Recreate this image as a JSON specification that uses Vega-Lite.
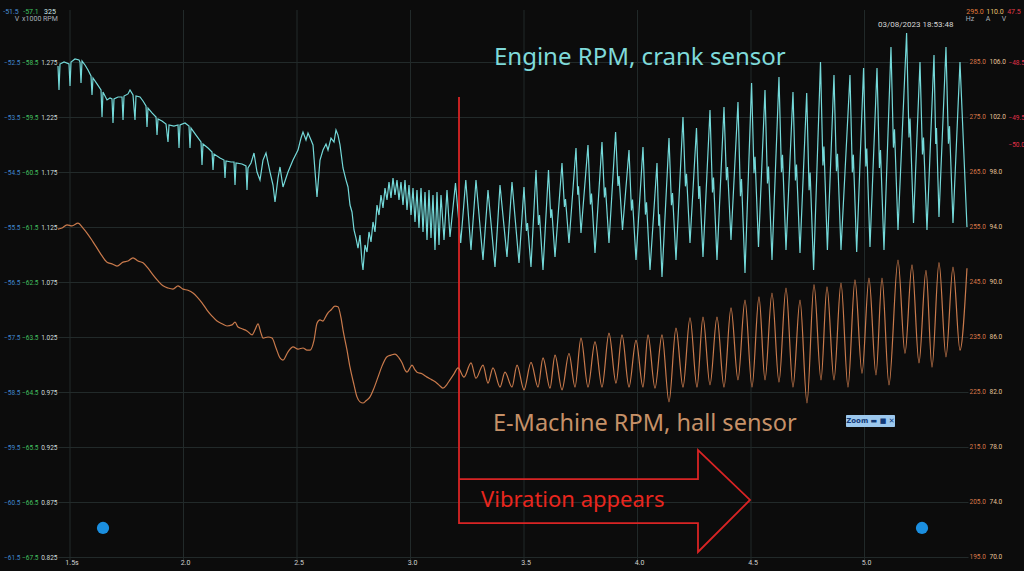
{
  "$schema": "https://vega.github.io/schema/vega-lite/v6.json",
  "width": 910,
  "height": 550,
  "autosize": "none",
  "padding": {"left": 58, "top": 10, "right": 56, "bottom": 11},
  "background": "#0c0c0c",
  "config": {
    "view": {"stroke": null},
    "axis": {"labelFont": "Roboto", "labelFontSize": 6.5, "domain": false, "ticks": false, "labelPadding": 1}
  },
  "datasets": {
    "cyan": [
      {"t":1.4471,"v":1.2714},{"t":1.4515,"v":1.2496},{"t":1.4559,"v":1.2732},{"t":1.4736,"v":1.275},{"t":1.4956,"v":1.2732},
      {"t":1.5,"v":1.2532},{"t":1.5044,"v":1.275},{"t":1.522,"v":1.2778},{"t":1.5396,"v":1.2769},{"t":1.5441,"v":1.275},
      {"t":1.5485,"v":1.256},{"t":1.5529,"v":1.2759},{"t":1.5661,"v":1.2723},{"t":1.5793,"v":1.2678},{"t":1.5925,"v":1.2623},
      {"t":1.5969,"v":1.2451},{"t":1.6013,"v":1.2605},{"t":1.6189,"v":1.2551},{"t":1.6366,"v":1.2496},{"t":1.641,"v":1.225},
      {"t":1.6454,"v":1.2478},{"t":1.663,"v":1.2405},{"t":1.6762,"v":1.2423},{"t":1.685,"v":1.2414},{"t":1.6894,"v":1.2196},
      {"t":1.6938,"v":1.2414},{"t":1.7115,"v":1.2432},{"t":1.7291,"v":1.2432},{"t":1.7335,"v":1.2223},{"t":1.7379,"v":1.2441},
      {"t":1.7555,"v":1.246},{"t":1.7643,"v":1.2496},{"t":1.7775,"v":1.2451},{"t":1.7863,"v":1.2223},{"t":1.7907,"v":1.2441},
      {"t":1.8084,"v":1.2432},{"t":1.8216,"v":1.2396},{"t":1.8348,"v":1.235},{"t":1.8392,"v":1.2159},{"t":1.8436,"v":1.2332},
      {"t":1.8612,"v":1.2287},{"t":1.8789,"v":1.225},{"t":1.8833,"v":1.2086},{"t":1.8877,"v":1.2232},{"t":1.9053,"v":1.2214},
      {"t":1.9229,"v":1.2187},{"t":1.9317,"v":1.2023},{"t":1.9361,"v":1.2178},{"t":1.9581,"v":1.2168},{"t":1.9758,"v":1.2178},
      {"t":1.9802,"v":1.1968},{"t":1.9846,"v":1.2178},{"t":2.0066,"v":1.2196},{"t":2.0242,"v":1.2168},{"t":2.0286,"v":1.1968},
      {"t":2.033,"v":1.215},{"t":2.0551,"v":1.2086},{"t":2.0771,"v":1.2023},{"t":2.0815,"v":1.1814},{"t":2.0859,"v":1.2005},
      {"t":2.1079,"v":1.1968},{"t":2.1256,"v":1.1932},{"t":2.13,"v":1.1768},{"t":2.1344,"v":1.1914},{"t":2.1608,"v":1.1877},
      {"t":2.1784,"v":1.1859},{"t":2.1828,"v":1.1696},{"t":2.1872,"v":1.185},{"t":2.2093,"v":1.1841},{"t":2.2225,"v":1.1841},
      {"t":2.2269,"v":1.1632},{"t":2.2313,"v":1.1832},{"t":2.2577,"v":1.1823},{"t":2.2753,"v":1.1805},{"t":2.2797,"v":1.1587},
      {"t":2.2841,"v":1.1787},{"t":2.2974,"v":1.1832},{"t":2.3106,"v":1.1923},{"t":2.3238,"v":1.175},{"t":2.337,"v":1.1677},
      {"t":2.3502,"v":1.1859},{"t":2.3634,"v":1.1923},{"t":2.3811,"v":1.175},{"t":2.3943,"v":1.1632},{"t":2.4031,"v":1.1478},
      {"t":2.4163,"v":1.1696},{"t":2.4251,"v":1.1796},{"t":2.4383,"v":1.1614},{"t":2.4604,"v":1.175},{"t":2.4824,"v":1.1859},
      {"t":2.5044,"v":1.195},{"t":2.5176,"v":1.2059},{"t":2.5264,"v":1.2114},{"t":2.5396,"v":1.2041},{"t":2.5485,"v":1.2105},
      {"t":2.5617,"v":1.2041},{"t":2.5705,"v":1.1996},{"t":2.5881,"v":1.1523},{"t":2.6013,"v":1.1859},{"t":2.6145,"v":1.195},
      {"t":2.6278,"v":1.2005},{"t":2.6366,"v":1.195},{"t":2.6498,"v":1.2059},{"t":2.663,"v":1.2023},{"t":2.6718,"v":1.2132},
      {"t":2.6806,"v":1.2086},{"t":2.6894,"v":1.1996},{"t":2.7026,"v":1.1787},{"t":2.7159,"v":1.1677},{"t":2.7247,"v":1.1614},
      {"t":2.7335,"v":1.145},{"t":2.7423,"v":1.1387},{"t":2.7511,"v":1.1223},{"t":2.7599,"v":1.115},{"t":2.7687,"v":1.1059},
      {"t":2.7775,"v":1.1177},{"t":2.7863,"v":1.0932},{"t":2.7907,"v":1.0859},{"t":2.7996,"v":1.1087},{"t":2.8084,"v":1.1023},
      {"t":2.8172,"v":1.1205},{"t":2.826,"v":1.1114},{"t":2.8348,"v":1.1296},{"t":2.8436,"v":1.1205},{"t":2.8524,"v":1.145},
      {"t":2.8612,"v":1.1359},{"t":2.87,"v":1.1541},{"t":2.8789,"v":1.1423},{"t":2.8877,"v":1.1605},{"t":2.8965,"v":1.1496},
      {"t":2.9053,"v":1.1659},{"t":2.9141,"v":1.1514},{"t":2.9229,"v":1.1696},{"t":2.9317,"v":1.1541},{"t":2.9405,"v":1.1677},
      {"t":2.9493,"v":1.1496},{"t":2.9581,"v":1.1659},{"t":2.967,"v":1.145},{"t":2.9758,"v":1.1677},{"t":2.9846,"v":1.1405},
      {"t":2.9934,"v":1.1632},{"t":3.0022,"v":1.1359},{"t":3.011,"v":1.1605},{"t":3.0198,"v":1.1296},{"t":3.0286,"v":1.1587},
      {"t":3.0374,"v":1.1241},{"t":3.0463,"v":1.1605},{"t":3.0551,"v":1.1205},{"t":3.0639,"v":1.1569},{"t":3.0727,"v":1.1132},
      {"t":3.0815,"v":1.1587},{"t":3.0903,"v":1.115},{"t":3.0991,"v":1.1541},{"t":3.1079,"v":1.1041},{"t":3.1167,"v":1.1569},
      {"t":3.1256,"v":1.1087},{"t":3.1344,"v":1.1541},{"t":3.1476,"v":1.1132},{"t":3.1608,"v":1.1587},{"t":3.174,"v":1.1159},
      {"t":3.1982,"v":1.165},{"t":3.2211,"v":1.1105},{"t":3.2436,"v":1.1677},{"t":3.2665,"v":1.1041},{"t":3.2885,"v":1.1677},
      {"t":3.3194,"v":1.095},{"t":3.3414,"v":1.1587},{"t":3.3722,"v":1.0887},{"t":3.3943,"v":1.1632},{"t":3.4251,"v":1.0977},
      {"t":3.4471,"v":1.1659},{"t":3.478,"v":1.0923},
      {"t":3.5,"v":1.1614},{"t":3.5108,"v":1.1214},{"t":3.5154,"v":1.1287},{"t":3.5308,"v":1.0887},
      {"t":3.5529,"v":1.1768},{"t":3.5637,"v":1.1268},{"t":3.5683,"v":1.1359},{"t":3.5837,"v":1.0859},
      {"t":3.6079,"v":1.1768},{"t":3.6179,"v":1.1333},{"t":3.6223,"v":1.1412},{"t":3.6366,"v":1.0977},
      {"t":3.6674,"v":1.1832},{"t":3.6782,"v":1.1432},{"t":3.6828,"v":1.1505},{"t":3.6982,"v":1.1105},
      {"t":3.7291,"v":1.1968},{"t":3.7368,"v":1.1543},{"t":3.7401,"v":1.1621},{"t":3.7511,"v":1.1196},
      {"t":3.7819,"v":1.1996},{"t":3.7927,"v":1.1456},{"t":3.7974,"v":1.1554},{"t":3.8128,"v":1.1014},
      {"t":3.8436,"v":1.2023},{"t":3.8544,"v":1.1518},{"t":3.859,"v":1.161},{"t":3.8744,"v":1.1105},
      {"t":3.9035,"v":1.2114},{"t":3.9141,"v":1.1624},{"t":3.9187,"v":1.1713},{"t":3.9339,"v":1.1223},
      {"t":3.9626,"v":1.195},{"t":3.9734,"v":1.14},{"t":3.978,"v":1.15},{"t":3.9934,"v":1.095},
      {"t":4.0242,"v":1.1978},{"t":4.035,"v":1.1363},{"t":4.0397,"v":1.1474},{"t":4.0551,"v":1.0859},
      {"t":4.0859,"v":1.1832},{"t":4.0936,"v":1.1262},{"t":4.0969,"v":1.1366},{"t":4.1079,"v":1.0796},
      {"t":4.1388,"v":1.2059},{"t":4.1496,"v":1.1449},{"t":4.1542,"v":1.156},{"t":4.1696,"v":1.095},
      {"t":4.2004,"v":1.225},{"t":4.2112,"v":1.162},{"t":4.2159,"v":1.1735},{"t":4.2313,"v":1.1105},
      {"t":4.2599,"v":1.215},{"t":4.2699,"v":1.1505},{"t":4.2742,"v":1.1622},{"t":4.2885,"v":1.0977},
      {"t":4.3194,"v":1.2314},{"t":4.3302,"v":1.1564},{"t":4.3348,"v":1.17},{"t":4.3502,"v":1.095},
      {"t":4.3811,"v":1.234},{"t":4.3919,"v":1.1676},{"t":4.3965,"v":1.1796},{"t":4.4119,"v":1.1132},
      {"t":4.4427,"v":1.2386},{"t":4.4535,"v":1.1531},{"t":4.4582,"v":1.1687},{"t":4.4736,"v":1.0832},
      {"t":4.5026,"v":1.256},{"t":4.5132,"v":1.1739},{"t":4.5178,"v":1.1889},{"t":4.533,"v":1.1068},
      {"t":4.5617,"v":1.2496},{"t":4.5725,"v":1.1646},{"t":4.5771,"v":1.18},{"t":4.5925,"v":1.095},
      {"t":4.6233,"v":1.2614},{"t":4.6341,"v":1.1749},{"t":4.6388,"v":1.1906},{"t":4.6542,"v":1.1041},
      {"t":4.685,"v":1.2478},{"t":4.6958,"v":1.1673},{"t":4.7005,"v":1.1819},{"t":4.7159,"v":1.1014},
      {"t":4.7454,"v":1.2469},{"t":4.756,"v":1.1584},{"t":4.7606,"v":1.1745},{"t":4.7758,"v":1.0859},
      {"t":4.8062,"v":1.275},{"t":4.8168,"v":1.181},{"t":4.8214,"v":1.1981},{"t":4.8366,"v":1.1041},
      {"t":4.8656,"v":1.2632},{"t":4.8764,"v":1.1757},{"t":4.8811,"v":1.1916},{"t":4.8965,"v":1.1041},
      {"t":4.9361,"v":1.2632},{"t":4.9464,"v":1.1747},{"t":4.9509,"v":1.1908},{"t":4.9656,"v":1.1023},
      {"t":4.996,"v":1.2696},{"t":5.0059,"v":1.1801},{"t":5.0101,"v":1.1963},{"t":5.0242,"v":1.1068},
      {"t":5.0551,"v":1.2696},{"t":5.0659,"v":1.1786},{"t":5.0705,"v":1.1951},{"t":5.0859,"v":1.1041},
      {"t":5.1167,"v":1.2887},{"t":5.1275,"v":1.1972},{"t":5.1322,"v":1.2138},{"t":5.1476,"v":1.1223},
      {"t":5.1855,"v":1.3014},{"t":5.1961,"v":1.2064},{"t":5.2007,"v":1.2237},{"t":5.2159,"v":1.1287},
      {"t":5.2445,"v":1.275},{"t":5.2553,"v":1.191},{"t":5.2599,"v":1.2063},{"t":5.2753,"v":1.1223},
      {"t":5.3062,"v":1.2814},{"t":5.3139,"v":1.2004},{"t":5.3172,"v":1.2151},{"t":5.3282,"v":1.1341},
      {"t":5.359,"v":1.2887},{"t":5.3698,"v":1.2007},{"t":5.3745,"v":1.2167},{"t":5.3899,"v":1.1287},
      {"t":5.4207,"v":1.275},{"t":5.4515,"v":1.125}
    ],
    "orange": [
      {"t":1.4471,"o":254.6},{"t":1.4648,"o":254.8},{"t":1.4868,"o":255.4},{"t":1.5088,"o":255.2},{"t":1.5352,"o":255.7},
      {"t":1.5573,"o":254.8},{"t":1.5749,"o":253.9},{"t":1.6013,"o":252.3},{"t":1.6322,"o":250.3},{"t":1.663,"o":248.6},
      {"t":1.685,"o":248.3},{"t":1.707,"o":247.9},{"t":1.7335,"o":248.6},{"t":1.7555,"o":248.8},{"t":1.7775,"o":249.4},
      {"t":1.7996,"o":248.8},{"t":1.8216,"o":248.5},{"t":1.8436,"o":247.5},{"t":1.8656,"o":246.3},{"t":1.8877,"o":245.2},
      {"t":1.9097,"o":244.3},{"t":1.9317,"o":243.9},{"t":1.9537,"o":243.7},{"t":1.9758,"o":244.3},{"t":1.9978,"o":243.7},
      {"t":2.0198,"o":243.5},{"t":2.0419,"o":243.0},{"t":2.0595,"o":242.3},{"t":2.0815,"o":241.2},{"t":2.1035,"o":239.9},
      {"t":2.1256,"o":238.8},{"t":2.1476,"o":237.9},{"t":2.1696,"o":237.4},{"t":2.1916,"o":237.0},{"t":2.2137,"o":237.2},
      {"t":2.2269,"o":237.7},{"t":2.2401,"o":236.8},{"t":2.2577,"o":236.5},{"t":2.2797,"o":236.1},{"t":2.3018,"o":235.4},
      {"t":2.315,"o":236.3},{"t":2.3282,"o":237.4},{"t":2.3414,"o":235.7},{"t":2.3502,"o":234.8},{"t":2.3722,"o":235.0},
      {"t":2.3899,"o":234.8},{"t":2.4075,"o":233.0},{"t":2.4251,"o":231.2},{"t":2.4383,"o":230.8},{"t":2.4604,"o":232.3},
      {"t":2.4824,"o":233.2},{"t":2.5044,"o":232.8},{"t":2.5264,"o":233.0},{"t":2.544,"o":232.6},{"t":2.5573,"o":232.6},
      {"t":2.5749,"o":234.4},{"t":2.5881,"o":237.5},{"t":2.6013,"o":238.1},{"t":2.6145,"o":237.9},{"t":2.6278,"o":238.8},
      {"t":2.6366,"o":239.4},{"t":2.6498,"o":239.9},{"t":2.6674,"o":240.6},{"t":2.6806,"o":240.5},{"t":2.6938,"o":238.5},
      {"t":2.7026,"o":236.3},{"t":2.7203,"o":232.6},{"t":2.7335,"o":229.5},{"t":2.7511,"o":226.3},{"t":2.7643,"o":224.1},
      {"t":2.7775,"o":223.2},{"t":2.7907,"o":223.0},{"t":2.804,"o":223.4},{"t":2.8216,"o":224.1},{"t":2.8392,"o":225.7},
      {"t":2.8568,"o":227.7},{"t":2.8744,"o":229.7},{"t":2.8965,"o":231.4},{"t":2.9141,"o":231.7},{"t":2.9317,"o":231.9},
      {"t":2.9493,"o":231.2},{"t":2.9626,"o":230.3},{"t":2.9758,"o":229.0},{"t":2.9846,"o":228.6},{"t":2.9978,"o":229.4},
      {"t":3.0066,"o":229.9},{"t":3.0198,"o":229.0},{"t":3.0286,"o":228.6},{"t":3.0507,"o":228.3},{"t":3.0727,"o":227.7},
      {"t":3.0947,"o":227.2},{"t":3.1167,"o":226.6},{"t":3.13,"o":226.1},{"t":3.1432,"o":225.7},{"t":3.1608,"o":226.4},
      {"t":3.174,"o":227.2},{"t":3.1916,"o":228.3},{"t":3.2093,"o":229.4},{"t":3.2357,"o":227.7},{"t":3.2665,"o":230.3},
      {"t":3.2885,"o":227.5},{"t":3.3194,"o":229.9},{"t":3.3414,"o":226.6},{"t":3.3634,"o":229.4},{"t":3.3943,"o":225.9},
      {"t":3.4163,"o":228.6},{"t":3.4471,"o":225.9},{"t":3.4692,"o":229.9},{"t":3.5,"o":225.4},{"t":3.5308,"o":230.4},
      {"t":3.5617,"o":225.9},{"t":3.5837,"o":231.2},{"t":3.6145,"o":225.7},{"t":3.6366,"o":231.7},{"t":3.6674,"o":225.4},
      {"t":3.6982,"o":232.0},{"t":3.7247,"o":225.9},{"t":3.7511,"o":234.8},{"t":3.7819,"o":225.9},{"t":3.8128,"o":234.1},
      {"t":3.8436,"o":225.9},{"t":3.8744,"o":235.7},{"t":3.9053,"o":226.6},{"t":3.9317,"o":235.4},{"t":3.9626,"o":225.9},
      {"t":3.9934,"o":234.4},{"t":4.0242,"o":225.9},{"t":4.0463,"o":235.4},{"t":4.0771,"o":225.7},{"t":4.1079,"o":235.4},
      {"t":4.1388,"o":223.2},{"t":4.1696,"o":236.6},{"t":4.2004,"o":225.9},{"t":4.2313,"o":238.5},{"t":4.2621,"o":225.9},
      {"t":4.2885,"o":238.6},{"t":4.3194,"o":226.3},{"t":4.3502,"o":238.6},{"t":4.3811,"o":225.9},{"t":4.4119,"o":240.3},
      {"t":4.4427,"o":227.2},{"t":4.4736,"o":241.7},{"t":4.5044,"o":225.9},{"t":4.5352,"o":242.3},{"t":4.5617,"o":227.2},
      {"t":4.5925,"o":243.0},{"t":4.6233,"o":226.8},{"t":4.6542,"o":243.9},{"t":4.685,"o":225.9},{"t":4.7159,"o":241.7},
      {"t":4.7467,"o":223.0},{"t":4.7775,"o":244.5},{"t":4.8084,"o":227.2},{"t":4.8348,"o":244.1},{"t":4.8656,"o":227.2},
      {"t":4.8965,"o":244.8},{"t":4.9273,"o":225.9},{"t":4.9581,"o":245.4},{"t":4.989,"o":228.4},{"t":5.0198,"o":245.7},
      {"t":5.0507,"o":228.1},{"t":5.0771,"o":245.7},{"t":5.1079,"o":226.3},{"t":5.1476,"o":249.0},{"t":5.1784,"o":232.0},
      {"t":5.2093,"o":248.1},{"t":5.2401,"o":230.3},{"t":5.2709,"o":247.1},{"t":5.2974,"o":229.5},{"t":5.3282,"o":248.5},
      {"t":5.359,"o":231.4},{"t":5.3899,"o":247.7},{"t":5.4207,"o":232.6},{"t":5.4515,"o":247.5}
    ],
    "arrow": [
      {"i":0,"t":3.2137,"v":1.2432},{"i":1,"t":3.2137,"v":0.8559},{"i":2,"t":4.2665,"v":0.8559},{"i":3,"t":4.2665,"v":0.8296},
      {"i":4,"t":4.4956,"v":0.8769},{"i":5,"t":4.2665,"v":0.9223},{"i":6,"t":4.2665,"v":0.8959},{"i":7,"t":3.2137,"v":0.8959}
    ],
    "notes": [
      {"kind":"engine","label":"Engine RPM, crank sensor","t":3.3678,"v":1.2787},
      {"kind":"emachine","label":"E-Machine RPM, hall sensor","t":3.3634,"v":0.9459},
      {"kind":"vibration","label":"Vibration appears","t":3.3106,"v":0.8769},
      {"kind":"date","label":"03/08/2023 18:53:48","t":5.0595,"v":1.3087}
    ],
    "header": [
      {"t":1.2401,"v":1.3205,"label":"-51.5","ch":"volt1"},
      {"t":1.3282,"v":1.3205,"label":"-57.1","ch":"volt2"},
      {"t":1.4119,"v":1.3205,"label":"325","ch":"rpm"},
      {"t":1.2665,"v":1.3141,"label":"V","ch":"unit"},
      {"t":1.3678,"v":1.3141,"label":"x1000 RPM","ch":"unit"},
      {"t":5.4868,"v":1.3205,"label":"295.0","ch":"hz"},
      {"t":5.5749,"v":1.3205,"label":"110.0","ch":"amp"},
      {"t":5.6586,"v":1.3205,"label":"47.5","ch":"volt3"},
      {"t":5.4648,"v":1.3141,"label":"Hz","ch":"unit"},
      {"t":5.5441,"v":1.3141,"label":"A","ch":"unit"},
      {"t":5.6145,"v":1.3141,"label":"V","ch":"unit"}
    ],
    "xticks": [
      {"t":1.5,"v":0.8196,"label":"1.5s"},{"t":2.0,"v":0.8196,"label":"2.0"},{"t":2.5,"v":0.8196,"label":"2.5"},
      {"t":3.0,"v":0.8196,"label":"3.0"},{"t":3.5,"v":0.8196,"label":"3.5"},{"t":4.0,"v":0.8196,"label":"4.0"},
      {"t":4.5,"v":0.8196,"label":"4.5"},{"t":5.0,"v":0.8196,"label":"5.0"}
    ],
    "dots": [{"t":1.6454,"v":0.8514},{"t":5.2533,"v":0.8514}],
    "zoomBox": [{"t":4.9185,"t2":5.1344,"v":0.9541,"v2":0.9432}],
    "zoomLabel": [{"t":5.026,"v":0.9487,"label":"Zoom ▬ ■ ✕"}],
    "blueTicks": [{"b":-52.5},{"b":-53.5},{"b":-54.5},{"b":-55.5},{"b":-56.5},{"b":-57.5},{"b":-58.5},{"b":-59.5},{"b":-60.5},{"b":-61.5}],
    "greenTicks": [{"g":-58.5},{"g":-59.5},{"g":-60.5},{"g":-61.5},{"g":-62.5},{"g":-63.5},{"g":-64.5},{"g":-65.5},{"g":-66.5},{"g":-67.5}],
    "ampTicks": [{"a":106},{"a":102},{"a":98},{"a":94},{"a":90},{"a":86},{"a":82},{"a":78},{"a":74},{"a":70}],
    "voltTicks": [{"r":-48.5},{"r":-49.5},{"r":-50.0}]
  },
  "resolve": {"scale": {"y": "independent"}, "axis": {"y": "independent"}},
  "layer": [
    {
      "data": {"name": "xticks"},
      "mark": {"type": "rule", "color": "#222a2a", "strokeWidth": 1},
      "encoding": {
        "x": {"field": "t", "type": "quantitative", "scale": {"domain": [1.4471, 5.456], "nice": false, "zero": false}, "axis": null}
      }
    },
    {
      "encoding": {
        "x": {
          "field": "t", "type": "quantitative",
          "scale": {"domain": [1.4471, 5.456], "nice": false, "zero": false},
          "axis": null
        },
        "y": {
          "field": "v", "type": "quantitative",
          "scale": {"domain": [0.8223, 1.3223], "nice": false, "zero": false},
          "axis": {
            "orient": "left", "title": null, "offset": 0,
            "values": [0.825, 0.875, 0.925, 0.975, 1.025, 1.075, 1.125, 1.175, 1.225, 1.275],
            "format": ".3f", "labelColor": "#cfdcdc", "grid": true, "gridColor": "#222a2a"
          }
        }
      },
      "layer": [
        {
          "data": {"name": "xticks"},
          "mark": {"type": "text", "align": "center", "baseline": "middle", "font": "Roboto", "fontSize": 7, "color": "#d2d2d2", "dx": 2},
          "encoding": {"text": {"field": "label"}}
        },
        {"data": {"name": "cyan"}, "mark": {"type": "line", "color": "#74d9d9", "strokeWidth": 1.2}},
        {
          "data": {"name": "arrow"},
          "mark": {"type": "line", "color": "#d92424", "strokeWidth": 1.8},
          "encoding": {"order": {"field": "i", "type": "quantitative"}}
        },
        {
          "data": {"name": "notes"},
          "transform": [{"filter": "datum.kind == 'engine'"}],
          "mark": {"type": "text", "align": "left", "baseline": "middle", "font": "Noto Sans", "fontSize": 24, "color": "#7fdada"},
          "encoding": {"text": {"field": "label"}}
        },
        {
          "data": {"name": "notes"},
          "transform": [{"filter": "datum.kind == 'emachine'"}],
          "mark": {"type": "text", "align": "left", "baseline": "middle", "font": "Noto Sans", "fontSize": 23.5, "color": "#c69168"},
          "encoding": {"text": {"field": "label"}}
        },
        {
          "data": {"name": "notes"},
          "transform": [{"filter": "datum.kind == 'vibration'"}],
          "mark": {"type": "text", "align": "left", "baseline": "middle", "font": "Noto Sans", "fontSize": 22, "color": "#e8261e"},
          "encoding": {"text": {"field": "label"}}
        },
        {
          "data": {"name": "notes"},
          "transform": [{"filter": "datum.kind == 'date'"}],
          "mark": {"type": "text", "align": "left", "baseline": "middle", "font": "Roboto", "fontSize": 8, "color": "#d6d6d6"},
          "encoding": {"text": {"field": "label"}}
        },
        {
          "data": {"name": "header"},
          "mark": {"type": "text", "align": "center", "baseline": "middle", "font": "Roboto", "fontSize": 7},
          "encoding": {
            "text": {"field": "label"},
            "color": {
              "field": "ch", "type": "nominal", "legend": null,
              "scale": {
                "domain": ["volt1", "volt2", "rpm", "unit", "hz", "amp", "volt3"],
                "range": ["#4a90d9", "#3cc060", "#d0e8e8", "#a8b0b8", "#e07a3a", "#e8c070", "#e03a4a"]
              }
            }
          }
        },
        {
          "data": {"name": "dots"},
          "mark": {"type": "point", "filled": true, "size": 150, "color": "#1b8fe0", "opacity": 1}
        },
        {
          "data": {"name": "zoomBox"},
          "mark": {"type": "rect", "color": "#9cc8ee", "cornerRadius": 1},
          "encoding": {"x2": {"field": "t2"}, "y2": {"field": "v2"}}
        },
        {
          "data": {"name": "zoomLabel"},
          "mark": {"type": "text", "align": "center", "baseline": "middle", "font": "DejaVu Sans", "fontSize": 7, "fontWeight": "bold", "color": "#123a78"},
          "encoding": {"text": {"field": "label"}}
        }
      ]
    },
    {
      "data": {"name": "orange"},
      "mark": {"type": "line", "color": "#c97a4c", "strokeWidth": 1.2, "interpolate": "monotone"},
      "encoding": {
        "x": {
          "field": "t", "type": "quantitative",
          "scale": {"domain": [1.4471, 5.456], "nice": false, "zero": false},
          "axis": null
        },
        "y": {
          "field": "o", "type": "quantitative",
          "scale": {"domain": [194.45, 294.45], "nice": false, "zero": false},
          "axis": {
            "orient": "right", "title": null, "offset": 0, "grid": false,
            "values": [195, 205, 215, 225, 235, 245, 255, 265, 275, 285],
            "format": ".1f", "labelColor": "#d9784a"
          }
        }
      }
    },
    {
      "data": {"name": "blueTicks"},
      "mark": {"type": "rule", "opacity": 0},
      "encoding": {
        "y": {
          "field": "b", "type": "quantitative",
          "scale": {"domain": [-61.5545, -51.5545], "nice": false, "zero": false},
          "axis": {"orient": "left", "title": null, "offset": 37, "grid": false, "values": [-52.5, -53.5, -54.5, -55.5, -56.5, -57.5, -58.5, -59.5, -60.5, -61.5], "format": ".1f", "labelColor": "#4088d0"}
        }
      }
    },
    {
      "data": {"name": "greenTicks"},
      "mark": {"type": "rule", "opacity": 0},
      "encoding": {
        "y": {
          "field": "g", "type": "quantitative",
          "scale": {"domain": [-67.5545, -57.5545], "nice": false, "zero": false},
          "axis": {"orient": "left", "title": null, "offset": 19, "grid": false, "values": [-58.5, -59.5, -60.5, -61.5, -62.5, -63.5, -64.5, -65.5, -66.5, -67.5], "format": ".1f", "labelColor": "#44c060"}
        }
      }
    },
    {
      "data": {"name": "ampTicks"},
      "mark": {"type": "rule", "opacity": 0},
      "encoding": {
        "y": {
          "field": "a", "type": "quantitative",
          "scale": {"domain": [69.78, 109.78], "nice": false, "zero": false},
          "axis": {"orient": "right", "title": null, "offset": 20, "grid": false, "values": [106, 102, 98, 94, 90, 86, 82, 78, 74, 70], "format": ".1f", "labelColor": "#e6c49a"}
        }
      }
    },
    {
      "data": {"name": "voltTicks"},
      "mark": {"type": "rule", "opacity": 0},
      "encoding": {
        "y": {
          "field": "r", "type": "quantitative",
          "scale": {"domain": [-57.5545, -47.5545], "nice": false, "zero": false},
          "axis": {"orient": "right", "title": null, "offset": 39, "grid": false, "values": [-48.5, -49.5, -50.0], "format": ".1f", "labelColor": "#e0304a"}
        }
      }
    }
  ]
}
